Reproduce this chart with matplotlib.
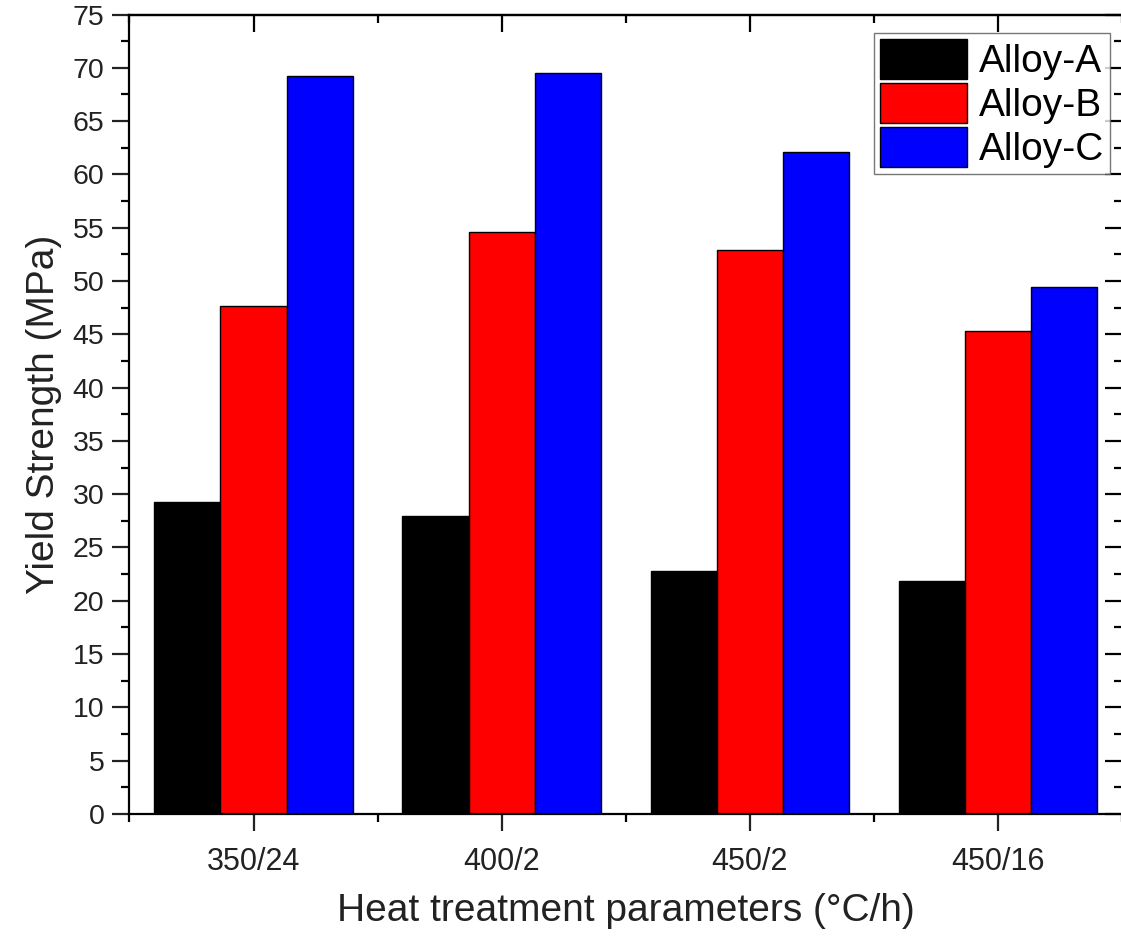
import matplotlib
matplotlib.use('Agg')
import matplotlib.pyplot as plt
from matplotlib.ticker import MultipleLocator
import numpy as np

plt.rcParams['font.family'] = ['Liberation Sans', 'DejaVu Sans']

# Yield strength data
treatments = ['350/24', '400/2', '450/2', '450/16']
alloy_a = [29.3, 28.0, 22.8, 21.9]
alloy_b = [47.7, 54.6, 52.9, 45.3]
alloy_c = [69.2, 69.5, 62.1, 49.4]

series = [('Alloy-A', alloy_a, '#000000'),
          ('Alloy-B', alloy_b, '#ff0000'),
          ('Alloy-C', alloy_c, '#0000ff')]

fig = plt.figure(figsize=(11.21, 9.42), dpi=100)
ax = fig.add_axes([0.1155, 0.1359, 0.8854, 0.8487])

x = np.arange(len(treatments))
width = 0.8 / 3
for k, (name, vals, col) in enumerate(series):
    ax.bar(x + (k - 1) * width, vals, width, color=col, edgecolor='black',
           linewidth=1.0, label=name)

ax.set_xlim(-0.5, 3.5)
ax.set_ylim(0, 75)
ax.set_xticks(x)
ax.set_xticklabels(treatments)
ax.xaxis.set_minor_locator(MultipleLocator(0.5))
ax.set_yticks(np.arange(0, 76, 5))
ax.yaxis.set_minor_locator(MultipleLocator(2.5))

for s in ax.spines.values():
    s.set_linewidth(1.6)

ax.tick_params(which='major', direction='out', length=12, width=1.6,
               colors='#222222', pad=6)
ax.tick_params(which='minor', direction='out', length=6, width=1.6)
ax.tick_params(axis='y', labelsize=20.5)
ax.tick_params(axis='x', labelsize=22, pad=12)

# inward ticks on top and right
top = ax.secondary_xaxis('top')
top.set_xticks(x)
top.xaxis.set_minor_locator(MultipleLocator(0.5))
top.tick_params(which='major', direction='in', length=12, width=1.6, labeltop=False)
top.tick_params(which='minor', direction='in', length=6, width=1.6)
top.spines['top'].set_linewidth(1.6)
right = ax.secondary_yaxis('right')
right.set_yticks(np.arange(0, 76, 5))
right.yaxis.set_minor_locator(MultipleLocator(2.5))
right.tick_params(which='major', direction='in', length=12, width=1.6, labelright=False)
right.tick_params(which='minor', direction='in', length=6, width=1.6)

ax.set_ylabel('Yield Strength (MPa)', fontsize=28, color='#222222', labelpad=8)
ax.set_xlabel('Heat treatment parameters (°C/h)', fontsize=28,
              color='#222222', labelpad=11)

leg = ax.legend(loc='upper right', bbox_to_anchor=(0.9902, 0.965),
                bbox_transform=fig.transFigure, fontsize=28, frameon=True,
                fancybox=False, edgecolor='#555555', handlelength=2.25,
                handleheight=1.2, labelspacing=0.08, borderpad=0.15,
                handletextpad=0.3, borderaxespad=0)
leg.get_frame().set_linewidth(1.0)

fig.savefig('out.png', dpi=100)
